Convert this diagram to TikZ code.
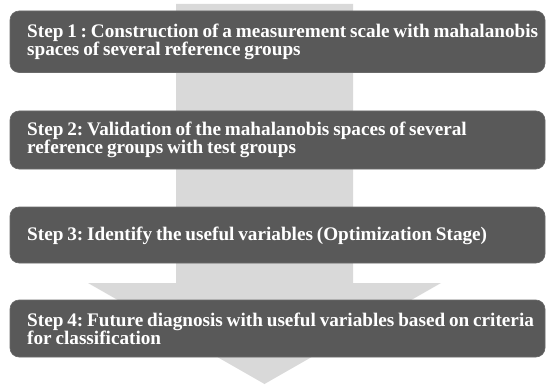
\documentclass[tikz,border=0pt]{standalone}
\usepackage{fontspec}
\setmainfont{Liberation Serif}[BoldFont={Liberation Serif Bold}]
\newcommand\mystepfont{\fontsize{19.2}{18}\selectfont\bfseries\frenchspacing\spaceskip=0.2em plus 0.05em\relax}
\begin{document}
\begin{tikzpicture}[x=1pt,y=-1pt,
  stepbox/.style={fill=boxgray,draw=boxgray!90!white,line width=0.6pt,rounded corners=9pt,inner sep=0pt},
  steptext/.style={anchor=west,align=left,inner sep=0pt,text=white,font=\mystepfont}]
\definecolor{boxgray}{HTML}{595959}
\definecolor{arrowgray}{HTML}{D9D9D9}
\useasboundingbox (0,0) rectangle (546,385);
% big arrow
\fill[arrowgray] (176,4) -- (353,4) -- (353,283) -- (441,283) -- (264.5,384) -- (88,283) -- (176,283) -- cycle;
% boxes
\draw[stepbox] (10,11) rectangle (545,72.5);
\draw[stepbox] (10,111) rectangle (545,169);
\draw[stepbox] (10,207) rectangle (545,263);
\draw[stepbox] (10,300) rectangle (545,357);
% texts
\node[steptext] (s1) at (27,42) {Step 1 : Construction of a measurement scale with mahalanobis\\spaces of several reference groups};
\node[steptext] (s2) at (27,140) {Step 2: Validation of the mahalanobis spaces of several\\reference groups with test groups};
\node[steptext] (s3) at (27,235.5) {Step 3: Identify the useful variables (Optimization Stage)};
\node[steptext] (s4) at (27,328.5) {Step 4: Future diagnosis with useful variables based on criteria\\for classification};
\end{tikzpicture}
\end{document}
